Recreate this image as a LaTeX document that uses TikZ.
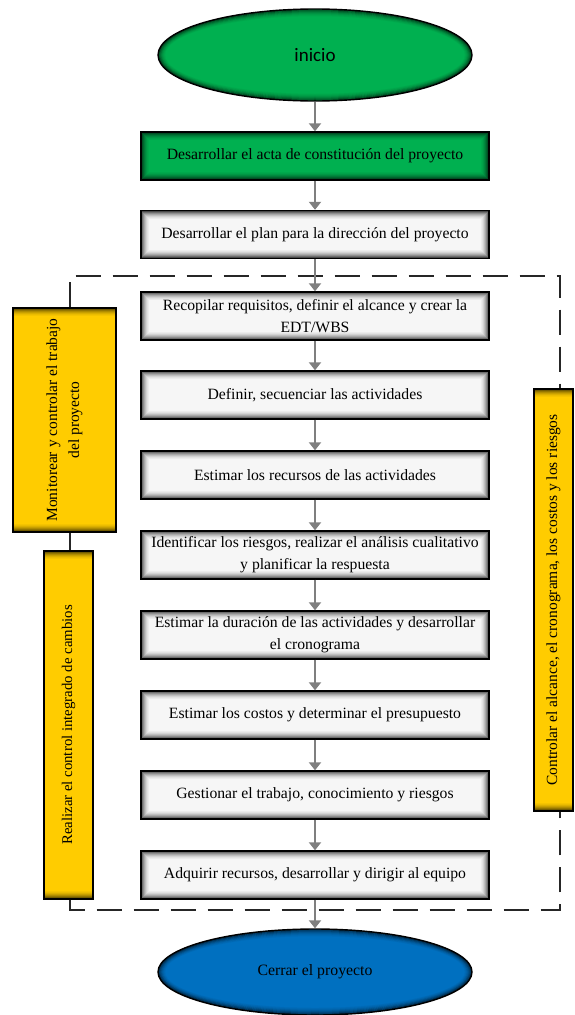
\documentclass[tikz,border=0pt]{standalone}
\usepackage{fontspec}
\setmainfont{Liberation Serif}
\newfontfamily\inisans{Carlito}
\usetikzlibrary{arrows.meta,shapes.geometric}

\definecolor{stepgreen}{HTML}{00B050}
\definecolor{stepyellow}{HTML}{FFCC00}
\definecolor{stepblue}{HTML}{0070C0}
\definecolor{flowgray}{HTML}{7F7F7F}
\definecolor{boxwhite}{HTML}{F6F6F6}

\tikzset{
  % soft dark band along the inside of a rectangle
  inset glow/.style={path picture={
    \foreach \k/\o in {0.75/0.7,1.75/0.55,2.75/0.42,3.75/0.31,4.75/0.22,5.75/0.14,6.75/0.08,7.75/0.04}{
      \draw[black,opacity=\o,line width=1pt]
        ([shift={(\k pt,\k pt)}]path picture bounding box.south west) rectangle
        ([shift={(-\k pt,-\k pt)}]path picture bounding box.north east);
    }}},
  % same band for an ellipse with radii #1 and #2 (pt)
  ellipse glow/.style 2 args={path picture={
    \foreach \k/\o in {0.75/0.6,1.75/0.45,2.75/0.33,3.75/0.22,4.75/0.14,5.75/0.08,6.75/0.04}{
      \draw[black,opacity=\o,line width=1pt]
        (path picture bounding box.center) ellipse [x radius={#1pt-\k pt}, y radius={#2pt-\k pt}];
    }}},
  stepbox/.style={draw=black, line width=1.4pt, fill=boxwhite, inset glow,
    minimum width=348pt, minimum height=48pt, inner sep=0pt, align=center,
    font=\fontsize{15.7}{22}\selectfont},
  sidebox/.style={draw=black, line width=1.4pt, fill=stepyellow, inset glow,
    rotate=90, inner sep=0pt, align=center, font=\fontsize{15.5}{22}\selectfont},
  terminal/.style={ellipse, draw=black, line width=1.4pt, inner sep=0pt,
    minimum width=314pt, minimum height=#1*2pt, ellipse glow={157}{#1}},
  flow/.style={draw=flowgray, line width=2pt, -{Triangle[width=12pt,length=8pt]}},
  frame/.style={draw=black!85, line width=2pt, dash pattern=on 25pt off 12pt},
}

\begin{document}
\begin{tikzpicture}[x=1pt,y=-1pt]
\useasboundingbox (0,0) rectangle (574,1015);

% start and end
\node[terminal=46, fill=stepgreen, font=\inisans\fontsize{19}{21}\selectfont] (ini) at (315,55) {inicio};
\node[terminal=43, fill=stepblue, font=\fontsize{15.8}{18}\selectfont] (fin) at (315,972) {Cerrar el proyecto};

% process steps
\node[stepbox, fill=stepgreen] (b1) at (315,156) {Desarrollar el acta de constitución del proyecto};
\node[stepbox] (b2) at (315,234.5) {Desarrollar el plan para la dirección del proyecto};
\node[stepbox] (b3) at (315,316) {Recopilar requisitos, definir el alcance y crear la\\EDT/WBS};
\node[stepbox] (b4) at (315,395) {Definir, secuenciar las actividades};
\node[stepbox] (b5) at (315,475) {Estimar los recursos de las actividades};
\node[stepbox] (b6) at (315,555) {Identificar los riesgos, realizar el análisis cualitativo\\y planificar la respuesta};
\node[stepbox] (b7) at (315,635) {Estimar la duración de las actividades y desarrollar\\el cronograma};
\node[stepbox] (b8) at (315,715) {Estimar los costos y determinar el presupuesto};
\node[stepbox] (b9) at (315,795) {Gestionar el trabajo, conocimiento y riesgos};
\node[stepbox] (b10) at (315,875) {Adquirir recursos, desarrollar y dirigir al equipo};

% monitoring and control processes
\node[sidebox, minimum width=224pt, minimum height=103pt] (Y1) at (64.5,420) {Monitorear y controlar el trabajo\\del proyecto};
\node[sidebox, minimum width=348pt, minimum height=49pt, font=\fontsize{14.8}{20}\selectfont] (Y2) at (68.5,725) {Realizar el control integrado de cambios};
\node[sidebox, minimum width=422pt, minimum height=39pt] (Y3) at (553.5,600) {Controlar el alcance, el cronograma, los costos y los riesgos};

% dashed frame around the planning and execution steps
\coordinate (tl) at (70,276);
\coordinate (tr) at (560,276);
\coordinate (bl) at (70,910);
\coordinate (br) at (560,910);
\draw[frame] (Y1.east -| tl) -- (tl) -- (tr) -- (Y3.east -| tr);
\draw[frame] (Y1.west -| tl) -- (Y2.east -| tl);
\draw[frame] (Y2.west -| bl) -- (bl) -- (br) -- (Y3.west -| br);

% sequence
\draw[flow] (ini) -- (b1);
\draw[flow] (b1) -- (b2);
\draw[flow] (b2) -- (b3);
\draw[flow] (b3) -- (b4);
\draw[flow] (b4) -- (b5);
\draw[flow] (b5) -- (b6);
\draw[flow] (b6) -- (b7);
\draw[flow] (b7) -- (b8);
\draw[flow] (b8) -- (b9);
\draw[flow] (b9) -- (b10);
\draw[flow] (b10) -- (fin);
\end{tikzpicture}
\end{document}
